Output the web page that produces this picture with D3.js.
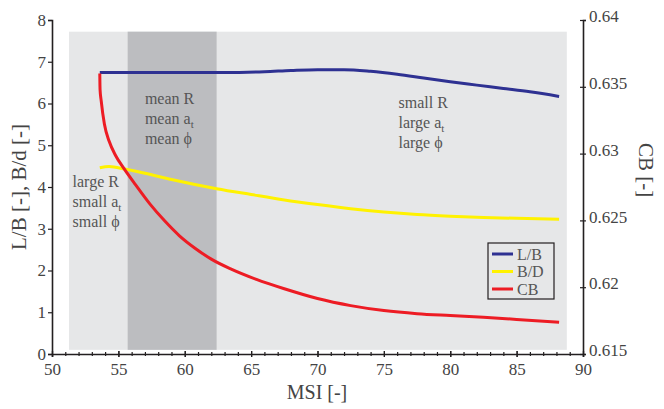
<!DOCTYPE html>
<html>
<head>
<meta charset="utf-8">
<script src="https://cdn.jsdelivr.net/npm/d3@7"></script>
<style>
  body { margin: 0; background: #fff; }
  svg text { font-family: "Liberation Serif", "Times New Roman", "DejaVu Serif", serif !important; fill: #444; }
</style>
</head>
<body>
<svg id="plot" width="664" height="409"></svg>
<script>
// L/B (left axis)
const lbMsi = [53.6, 56, 60, 63, 66, 68, 70, 72, 74, 76, 78, 80, 82, 84, 86, 88.2]
const lbVal = [6.74, 6.74, 6.74, 6.74, 6.76, 6.79, 6.81, 6.81, 6.77, 6.70, 6.61, 6.52, 6.44, 6.36, 6.28, 6.17]

// B/D (left axis)
const bdMsi = [53.6, 54.3, 55.5, 57, 59, 62.4, 65, 67.5, 70, 72.5, 75, 77.5, 80, 82.5, 85, 88.2]
const bdVal = [4.46, 4.49, 4.43, 4.33, 4.18, 3.96, 3.82, 3.69, 3.58, 3.48, 3.40, 3.34, 3.30, 3.27, 3.25, 3.23]

// CB (right axis)
const cbMsi = [53.6, 53.62, 53.7, 53.95, 54.3, 54.8, 55.4, 56.3, 57.4, 58.5, 59.6, 60.8, 62.0, 63.5, 65.4, 67.5, 70, 72.5, 75, 77.5, 80, 82.5, 85, 88.2]
const cbVal = [0.63600, 0.63480, 0.63400, 0.63219, 0.63094, 0.62984, 0.62891, 0.62766, 0.62620, 0.62495, 0.62385, 0.62290, 0.62210, 0.62135, 0.62058, 0.61988, 0.61915, 0.61862, 0.61825, 0.61802, 0.61788, 0.61775, 0.61759, 0.61738]

const xTicks = [50, 55, 60, 65, 70, 75, 80, 85, 90]
const yTicks = [0, 1, 2, 3, 4, 5, 6, 7, 8]
const cbTicks = [0.615, 0.62, 0.625, 0.63, 0.635, 0.64]

// shaded regions
const bgRange = [51.28, 88.78]
const bgVal = [0.1, 7.72]
const meanBand = [55.7, 62.4]

const legendItems = ["L/B", "B/D", "CB"]
const colors = ["#2e3192", "#fff200", "#ed1c24"]

const notes = [
    { x: 57.0, y: 6.0, lines: ["mean R", "mean a|t", "mean \u03d5"] },
    { x: 51.55, y: 4.0, lines: ["large R", "small a|t", "small \u03d5"] },
    { x: 76.1, y: 5.9, lines: ["small R", "large a|t", "large \u03d5"] }
]

const x = d3.scaleLinear().domain([50, 90]).range([52, 583])
const y = d3.scaleLinear().domain([0, 8]).range([354, 20])
const yCB = d3.scaleLinear().domain([0.615, 0.64]).range([354, 20])

const svg = d3.select("#plot")

svg.append("rect")
    .attr("x", x(bgRange[0])).attr("y", y(bgVal[1]))
    .attr("width", x(bgRange[1]) - x(bgRange[0]))
    .attr("height", y(bgVal[0]) - y(bgVal[1]))
    .attr("fill", "#e6e7e8")

svg.append("rect")
    .attr("x", x(meanBand[0])).attr("y", y(bgVal[1]))
    .attr("width", x(meanBand[1]) - x(meanBand[0]))
    .attr("height", y(bgVal[0]) - y(bgVal[1]))
    .attr("fill", "#bcbdc0")

// annotations
notes.forEach(n => {
    const t = svg.append("g")
    n.lines.forEach((l, i) => {
        const [main, sub] = l.split("|")
        const txt = t.append("text")
            .attr("x", x(n.x))
            .attr("y", y(n.y) + i * 20)
            .attr("font-size", 16)
            .style("fill", "#555")
        txt.append("tspan").text(main)
        if (sub) txt.append("tspan").attr("dy", 4).attr("font-size", 11).text(sub)
    })
})

const line = (xs, ys, sc) => d3.line()
    .x((d, i) => x(xs[i]))
    .y((d, i) => sc(ys[i]))
    .curve(d3.curveMonotoneX)(xs)

svg.append("path").attr("d", line(bdMsi, bdVal, y))
    .attr("fill", "none").attr("stroke", colors[1]).attr("stroke-width", 3)
svg.append("path").attr("d", line(lbMsi, lbVal, y))
    .attr("fill", "none").attr("stroke", colors[0]).attr("stroke-width", 3)
svg.append("path").attr("d", line(cbMsi, cbVal, yCB))
    .attr("fill", "none").attr("stroke", colors[2]).attr("stroke-width", 3)

// axes
const axisColor = "#231f20"

const gx = svg.append("g").attr("transform", `translate(0,${y(0)})`)
    .call(d3.axisBottom(x).tickValues(d3.range(50, 91, 1)).tickSize(3).tickFormat(""))
gx.selectAll(".tick line").attr("y1", -2).attr("y2", 2)
gx.append("g").call(d3.axisBottom(x).tickValues(xTicks).tickSize(0).tickPadding(9))
    .call(g => g.select(".domain").remove())
    .selectAll("text").attr("font-size", 17)
gx.selectAll(".tick").filter(d => xTicks.includes(d)).select("line").attr("y1", -3).attr("y2", 3)

const gy = svg.append("g").attr("transform", `translate(${x(50)},0)`)
    .call(d3.axisLeft(y).tickValues(yTicks).tickSize(4).tickPadding(2))
gy.selectAll("text").attr("font-size", 17)

const gr = svg.append("g").attr("transform", `translate(${x(90)},0)`)
    .call(d3.axisRight(yCB).tickValues(cbTicks).tickSize(3).tickPadding(3).tickFormat(d3.format("")))
gr.selectAll(".tick line").attr("x1", -3).attr("x2", 3)
gr.selectAll("text").attr("font-size", 17).attr("dy", "0.1em")

svg.selectAll(".domain").attr("stroke", axisColor).attr("stroke-width", 1.6)
svg.selectAll(".tick line").attr("stroke", axisColor).attr("stroke-width", 1.2)

// axis titles
svg.append("text").attr("x", 317).attr("y", 399).attr("text-anchor", "middle")
    .attr("font-size", 20).text("MSI [-]")
svg.append("text").attr("transform", `translate(26,187) rotate(-90)`).attr("text-anchor", "middle")
    .attr("font-size", 21).text("L/B [-], B/d [-]")
svg.append("text").attr("transform", `translate(639,170) rotate(90)`).attr("text-anchor", "middle")
    .attr("font-size", 21).text("CB [-]")

// legend
const lg = svg.append("g").attr("transform", "translate(488,243)")
lg.append("rect").attr("width", 66).attr("height", 56)
    .attr("fill", "#e6e7e8").attr("stroke", "#231f20").attr("stroke-width", 1.2)
legendItems.forEach((name, i) => {
    lg.append("line").attr("x1", 4).attr("x2", 25).attr("y1", 11 + i * 17.5).attr("y2", 11 + i * 17.5)
        .attr("stroke", colors[i]).attr("stroke-width", 3)
    lg.append("text").attr("x", 29).attr("y", 16.5 + i * 17.5).attr("font-size", 16).style("fill", "#555").text(name)
})
</script>
</body>
</html>
